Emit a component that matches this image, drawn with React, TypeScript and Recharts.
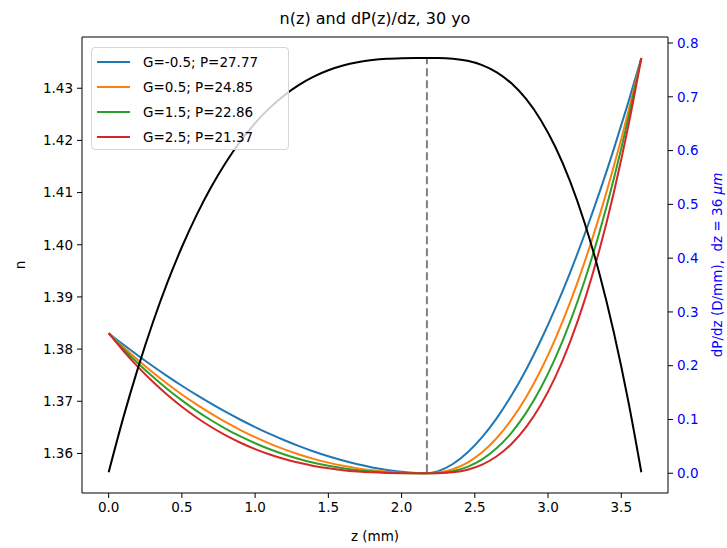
import React from "react";
import { ComposedChart, Line, XAxis, YAxis, ReferenceLine, Label } from "recharts";

// z positions along the lens axis (mm)
const zValues = [
  0, 0.1, 0.2, 0.3, 0.4, 0.5, 0.6, 0.7, 0.8, 0.9, 1.0, 1.1, 1.2, 1.3, 1.4, 1.5, 1.6, 1.7, 1.8, 1.9, 2.0,
  2.1, 2.173, 2.25, 2.35, 2.45, 2.55, 2.65, 2.75, 2.85, 2.95, 3.05, 3.15, 3.25, 3.35, 3.45, 3.55, 3.637,
];

// n(z), black curve, left axis
const nValues = [
  1.3564, 1.36687, 1.37636, 1.38496, 1.39268, 1.39957, 1.40569, 1.41107, 1.41578, 1.41984, 1.42332,
  1.42624, 1.42867, 1.43065, 1.43223, 1.43344, 1.43435, 1.43498, 1.4354, 1.43565, 1.43576, 1.4358,
  1.4358, 1.43579, 1.43566, 1.43526, 1.43444, 1.43305, 1.43094, 1.42795, 1.42393, 1.41874, 1.4122,
  1.40418, 1.39454, 1.38309, 1.36972, 1.3564,
];

// dP/dz per G, right axis
const dpG1 = [
  0.2605, 0.2393, 0.219, 0.1994, 0.1806, 0.1627, 0.1456, 0.1294, 0.114, 0.0995, 0.0859, 0.0731, 0.0613,
  0.0505, 0.0405, 0.0316, 0.0237, 0.0167, 0.0109, 0.0062, 0.0027, 0.0006, 0, 0.0039, 0.0172, 0.0385,
  0.0671, 0.1026, 0.1444, 0.1926, 0.2468, 0.3069, 0.3728, 0.4444, 0.5213, 0.6037, 0.6915, 0.772,
];
const dpG2 = [
  0.2605, 0.2349, 0.2107, 0.1878, 0.1665, 0.1465, 0.128, 0.1107, 0.0949, 0.0803, 0.0671, 0.0552, 0.0445,
  0.035, 0.0268, 0.0198, 0.0139, 0.0091, 0.0054, 0.0027, 0.001, 0.0001, 0, 0.0012, 0.0074, 0.0198, 0.039,
  0.0655, 0.0996, 0.1415, 0.1916, 0.25, 0.3171, 0.393, 0.4777, 0.5716, 0.6747, 0.772,
];
const dpG3 = [
  0.2605, 0.2316, 0.2046, 0.1797, 0.1566, 0.1355, 0.1161, 0.0986, 0.0827, 0.0684, 0.0558, 0.0446, 0.035,
  0.0266, 0.0196, 0.0139, 0.0093, 0.0058, 0.0032, 0.0015, 0.0005, 0.0001, 0, 0.0005, 0.0039, 0.012,
  0.0259, 0.0468, 0.0753, 0.1122, 0.1584, 0.2144, 0.2809, 0.3584, 0.4474, 0.5487, 0.6625, 0.772,
];
const dpG4 = [
  0.2605, 0.2278, 0.1979, 0.1706, 0.1459, 0.1236, 0.1037, 0.086, 0.0704, 0.0567, 0.0449, 0.0349, 0.0264,
  0.0194, 0.0137, 0.0092, 0.0058, 0.0034, 0.0017, 0.0007, 0.0002, 0, 0, 0.0002, 0.0019, 0.0067, 0.0161,
  0.0316, 0.0543, 0.0857, 0.1269, 0.1792, 0.2438, 0.3219, 0.4145, 0.5231, 0.6485, 0.772,
];

const seriesNames = ["G=-0.5; P=27.77", "G=0.5; P=24.85", "G=1.5; P=22.86", "G=2.5; P=21.37"];
const seriesKeys = ["g1", "g2", "g3", "g4"];
const seriesColors = ["#1f77b4", "#ff7f0e", "#2ca02c", "#d62728"];

const xTicks = [0, 0.5, 1, 1.5, 2, 2.5, 3, 3.5];
const nTicks = [1.36, 1.37, 1.38, 1.39, 1.4, 1.41, 1.42, 1.43];
const dpTicks = [0, 0.1, 0.2, 0.3, 0.4, 0.5, 0.6, 0.7, 0.8];

const zPeak = 2.173;
const nMin = 1.3564;
const nMax = 1.4358;

const X_DOMAIN: [number, number] = [-0.182, 3.819];
const N_DOMAIN: [number, number] = [1.35242, 1.43982];
const DP_DOMAIN: [number, number] = [-0.0367, 0.8112];

const data = zValues.map((z, i) => ({
  z,
  n: nValues[i],
  g1: dpG1[i],
  g2: dpG2[i],
  g3: dpG3[i],
  g4: dpG4[i],
}));

const FONT = "DejaVu Sans, sans-serif";
const FS = 13.5;

export default function App() {
  return (
    <div style={{ position: "absolute", left: 0, top: 0, width: 727, height: 548, background: "#fff", fontFamily: FONT }}>
      <div style={{ position: "absolute", left: 0, top: 9, width: 750, textAlign: "center", fontSize: 16, color: "#000" }}>
        n(z) and dP(z)/dz, 30 yo
      </div>
      <ComposedChart width={727} height={548} data={data} margin={{ top: 37, right: 0, bottom: 25, left: 0 }}>
        <XAxis
          dataKey="z"
          type="number"
          domain={X_DOMAIN}
          ticks={xTicks}
          allowDataOverflow
          height={30}
          tickSize={5}
          tickMargin={4}
          tickFormatter={(v: number) => v.toFixed(1)}
          tick={{ fill: "#000", fontSize: FS, fontFamily: FONT }}
          stroke="#000"
        >
          <Label
            content={() => (
              <text x={375} y={541} textAnchor="middle" fontSize={FS} fontFamily={FONT} fill="#000">
                z (mm)
              </text>
            )}
          />
        </XAxis>
        <YAxis
          yAxisId="left"
          type="number"
          domain={N_DOMAIN}
          ticks={nTicks}
          allowDataOverflow
          width={82}
          tickSize={5}
          tickMargin={4}
          tickFormatter={(v: number) => v.toFixed(2)}
          tick={{ fill: "#000", fontSize: FS, fontFamily: FONT }}
          stroke="#000"
        >
          <Label
            content={() => (
              <text x={20} y={265} transform="rotate(-90 20 265)" textAnchor="middle" dominantBaseline="central" fontSize={FS} fontFamily={FONT} fill="#000">
                n
              </text>
            )}
          />
        </YAxis>
        <YAxis
          yAxisId="right"
          orientation="right"
          type="number"
          domain={DP_DOMAIN}
          ticks={dpTicks}
          allowDataOverflow
          width={59}
          tickSize={5}
          tickMargin={4}
          tickFormatter={(v: number) => v.toFixed(1)}
          tick={{ fill: "#0000ff", fontSize: FS, fontFamily: FONT }}
          stroke="#000"
        >
          <Label
            content={() => (
              <text
                x={717}
                y={265}
                transform="rotate(-90 717 265)"
                textAnchor="middle"
                dominantBaseline="central"
                fontSize={FS}
                fontFamily={FONT}
                fill="#0000ff"
                style={{ whiteSpace: "pre" }}
              >
                {"dP/dz (D/mm),  dz = 36 "}
                <tspan fontStyle="italic">μm</tspan>
              </text>
            )}
          />
        </YAxis>
        {/* top spine */}
        <ReferenceLine yAxisId="left" y={N_DOMAIN[1]} stroke="#000" strokeWidth={1} />
        {seriesKeys.map((k, i) => (
          <Line
            key={k}
            yAxisId="right"
            dataKey={k}
            type="monotone"
            stroke={seriesColors[i]}
            strokeWidth={2}
            dot={false}
            isAnimationActive={false}
          />
        ))}
        <ReferenceLine
          yAxisId="left"
          segment={[
            { x: zPeak, y: nMin },
            { x: zPeak, y: nMax },
          ]}
          stroke="#7f7f7f"
          strokeWidth={2}
          strokeDasharray="8 4"
        />
        <Line
          yAxisId="left"
          dataKey="n"
          type="monotone"
          stroke="#000"
          strokeWidth={2}
          dot={false}
          isAnimationActive={false}
        />
      </ComposedChart>
      <div
        style={{
          position: "absolute",
          left: 91,
          top: 47,
          width: 198,
          height: 103,
          boxSizing: "border-box",
          border: "1px solid #d6d6d6",
          borderRadius: 4,
          background: "rgba(255,255,255,0.8)",
          paddingTop: 1,
          fontSize: FS,
          color: "#000",
        }}
      >
        {seriesNames.map((name, i) => (
          <div key={name} style={{ display: "flex", alignItems: "center", height: 25 }}>
            <div style={{ width: 33, height: 2, background: seriesColors[i], marginLeft: 5, marginRight: 13 }} />
            <span>{name}</span>
          </div>
        ))}
      </div>
    </div>
  );
}
